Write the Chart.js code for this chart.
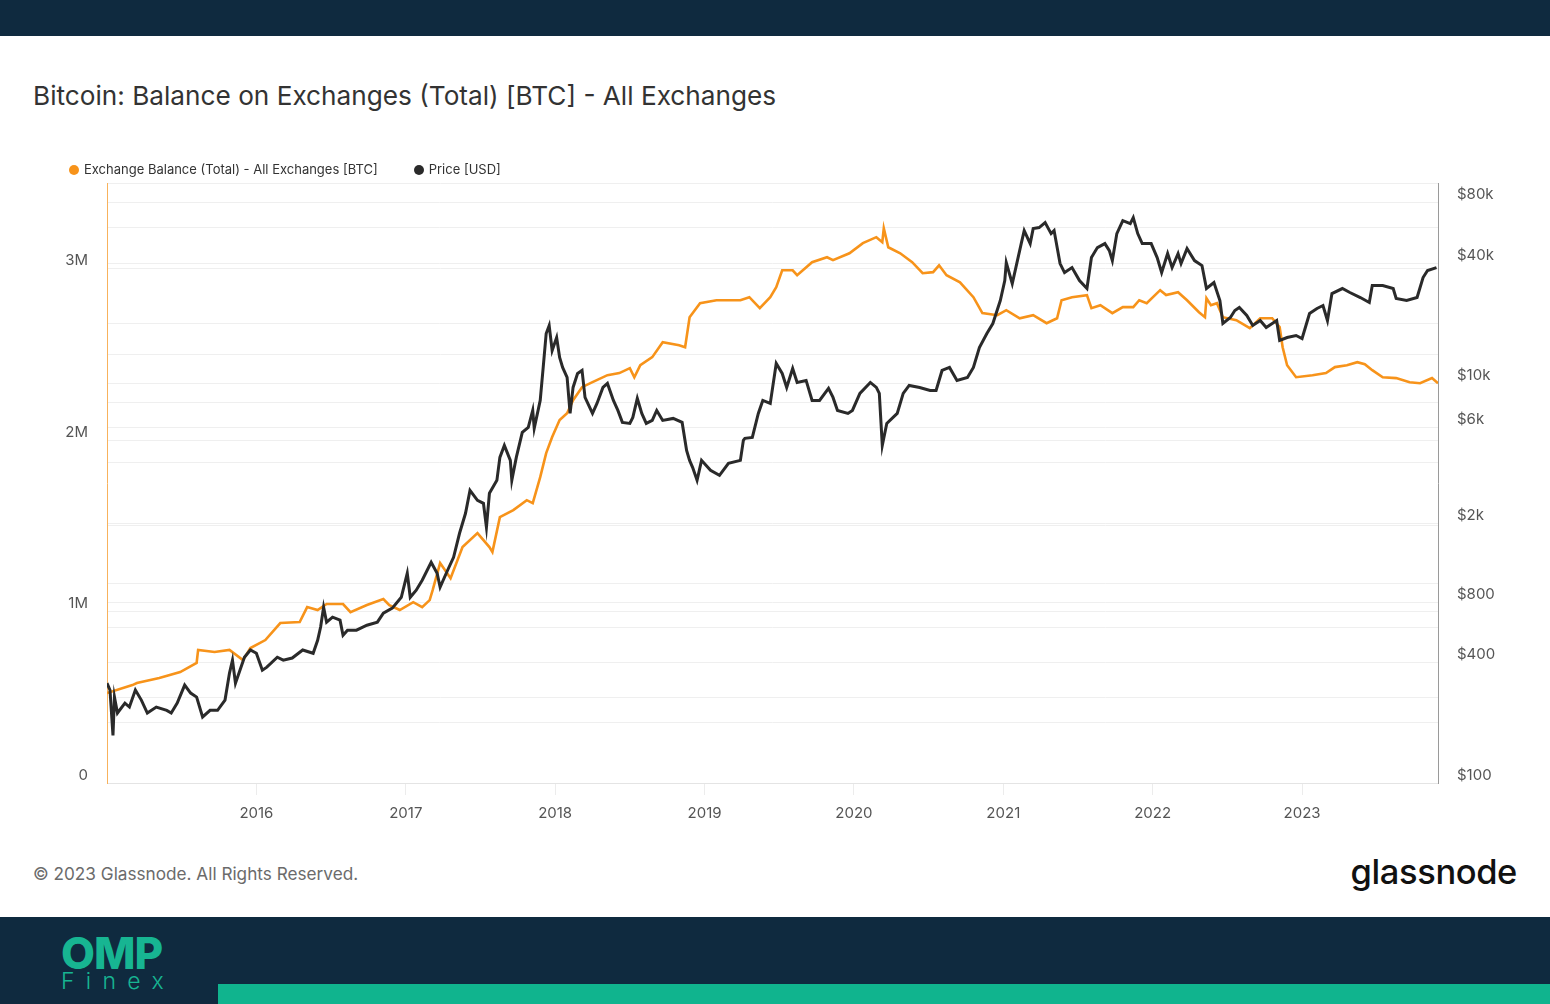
<!DOCTYPE html>
<html>
<head>
<meta charset="utf-8">
<script src="https://cdn.jsdelivr.net/npm/chart.js@4.4.1/dist/chart.umd.min.js"></script>
<style>
  html, body { margin: 0; padding: 0; }
  body { width: 1550px; height: 1004px; position: relative; background: #fff; overflow: hidden; font-family: Inter, "Noto Sans", sans-serif; }
  .abs { position: absolute; white-space: nowrap; }
  #topbar { left: 0; top: 0; width: 1550px; height: 36px; background: #0f2a3f; }
  #title { left: 33px; top: 80px; font-size: 26.2px; line-height: 32px; color: #333; }
  #legend { left: 69px; top: 161px; font-size: 13px; line-height: 16px; color: #333; }
  #legend span.dot { display: inline-block; width: 10px; height: 10px; border-radius: 50%; margin-right: 5px; vertical-align: -1px; }
  #chart { position: absolute; left: 0; top: 140px; }
  #footer { left: 33px; top: 863px; font-size: 17.2px; line-height: 22px; color: #6b6b6b; }
  #brand { right: 33px; top: 852px; font-size: 34.5px; line-height: 40px; color: #111; font-weight: 500; letter-spacing: -0.4px; }
  #bottombar { left: 0; top: 917px; width: 1550px; height: 87px; background: #0f2a3f; }
  #teal { left: 218px; top: 984px; width: 1332px; height: 20px; background: #10b48e; }
  #omp { left: 61px; top: 931px; font-size: 44px; line-height: 44px; font-weight: 800; color: #17b592; letter-spacing: -1px; }
  #finex { left: 61px; top: 969px; font-size: 23px; line-height: 24px; font-weight: 300; color: #17b592; letter-spacing: 11.3px; }
</style>
</head>
<body>
<div id="topbar" class="abs"></div>
<div id="title" class="abs">Bitcoin: Balance on Exchanges (Total) [BTC] - All Exchanges</div>
<canvas id="chart" width="1550" height="700"></canvas>
<div id="legend" class="abs"><span class="dot" style="background:#f7931a"></span>Exchange Balance (Total) - All Exchanges [BTC]<span class="dot" style="background:#2a2a2a;margin-left:36px"></span>Price [USD]</div>
<div id="footer" class="abs">© 2023 Glassnode. All Rights Reserved.</div>
<div id="brand" class="abs">glassnode</div>
<div id="bottombar" class="abs"></div>
<div id="teal" class="abs"></div>
<div id="omp" class="abs">OMP</div>
<div id="finex" class="abs">Finex</div>

<script>
// dates as decimal years
const balanceDates = [
  2015.00, 2015.17, 2015.20, 2015.35, 2015.49, 2015.60, 2015.61, 2015.72, 2015.82, 2015.91,
  2015.96, 2016.06, 2016.16, 2016.29, 2016.34, 2016.41, 2016.47, 2016.58, 2016.63, 2016.74,
  2016.85, 2016.89, 2016.96, 2017.05, 2017.11, 2017.16, 2017.18, 2017.23, 2017.30, 2017.38,
  2017.48, 2017.56, 2017.58, 2017.63, 2017.72, 2017.81, 2017.85, 2017.90, 2017.94, 2017.98,
  2018.03, 2018.08, 2018.12, 2018.18, 2018.25, 2018.35, 2018.43, 2018.50, 2018.53, 2018.57,
  2018.65, 2018.72, 2018.83, 2018.87, 2018.90, 2018.97, 2019.08, 2019.24, 2019.30, 2019.37,
  2019.44, 2019.48, 2019.52, 2019.59, 2019.62, 2019.72, 2019.82, 2019.86, 2019.97, 2020.06,
  2020.15, 2020.19, 2020.20, 2020.23, 2020.31, 2020.39, 2020.46, 2020.53, 2020.57, 2020.62,
  2020.71, 2020.80, 2020.86, 2020.96, 2021.02, 2021.11, 2021.20, 2021.29, 2021.36, 2021.39,
  2021.46, 2021.56, 2021.59, 2021.65, 2021.73, 2021.80, 2021.87, 2021.91, 2021.96, 2022.05,
  2022.09, 2022.17, 2022.23, 2022.31, 2022.35, 2022.36, 2022.39, 2022.43, 2022.47, 2022.56,
  2022.65, 2022.72, 2022.80, 2022.85, 2022.87, 2022.90, 2022.96, 2023.07, 2023.16, 2023.22,
  2023.30, 2023.37, 2023.42, 2023.47, 2023.54, 2023.63, 2023.72, 2023.79, 2023.87, 2023.91
];
const balanceValues = [
  525000, 571000, 583000, 612000, 647000, 700000, 776000, 764000, 776000, 717000,
  787000, 834000, 933000, 939000, 1026000, 1009000, 1044000, 1044000, 997000, 1038000,
  1073000, 1038000, 1009000, 1055000, 1026000, 1067000, 1125000, 1283000, 1195000, 1376000,
  1458000, 1376000, 1347000, 1551000, 1592000, 1650000, 1633000, 1784000, 1924000, 2018000,
  2117000, 2157000, 2233000, 2309000, 2338000, 2379000, 2391000, 2420000, 2367000, 2437000,
  2484000, 2571000, 2554000, 2542000, 2717000, 2799000, 2816000, 2816000, 2834000, 2770000,
  2834000, 2892000, 2991000, 2991000, 2962000, 3038000, 3067000, 3050000, 3090000, 3149000,
  3184000, 3155000, 3236000, 3125000, 3090000, 3038000, 2974000, 2980000, 3020000, 2962000,
  2921000, 2834000, 2741000, 2729000, 2758000, 2711000, 2729000, 2682000, 2711000, 2816000,
  2834000, 2846000, 2770000, 2787000, 2741000, 2776000, 2776000, 2816000, 2799000, 2875000,
  2846000, 2863000, 2816000, 2746000, 2717000, 2828000, 2787000, 2799000, 2717000, 2700000,
  2653000, 2711000, 2711000, 2659000, 2542000, 2437000, 2367000, 2379000, 2391000, 2426000,
  2437000, 2455000, 2443000, 2408000, 2367000, 2362000, 2338000, 2332000, 2362000, 2332000
];

const priceDates = [
  2015.00, 2015.02, 2015.04, 2015.05, 2015.07, 2015.12, 2015.15, 2015.19, 2015.23, 2015.27,
  2015.33, 2015.40, 2015.43, 2015.47, 2015.52, 2015.56, 2015.60, 2015.64, 2015.69, 2015.74,
  2015.79, 2015.82, 2015.84, 2015.86, 2015.89, 2015.92, 2015.96, 2016.00, 2016.04, 2016.07,
  2016.14, 2016.18, 2016.24, 2016.31, 2016.38, 2016.41, 2016.43, 2016.45, 2016.47, 2016.51,
  2016.56, 2016.58, 2016.61, 2016.67, 2016.74, 2016.81, 2016.85, 2016.91, 2016.97, 2017.01,
  2017.03, 2017.07, 2017.11, 2017.17, 2017.21, 2017.23, 2017.28, 2017.32, 2017.36, 2017.40,
  2017.43, 2017.48, 2017.52, 2017.54, 2017.56, 2017.61, 2017.63, 2017.66, 2017.70, 2017.71,
  2017.74, 2017.78, 2017.82, 2017.85, 2017.86, 2017.90, 2017.92, 2017.94, 2017.96, 2017.98,
  2018.01, 2018.03, 2018.05, 2018.08, 2018.10, 2018.12, 2018.15, 2018.18, 2018.20, 2018.25,
  2018.28, 2018.32, 2018.35, 2018.39, 2018.42, 2018.45, 2018.50, 2018.52, 2018.55, 2018.58,
  2018.61, 2018.65, 2018.68, 2018.72, 2018.79, 2018.85, 2018.88, 2018.90, 2018.92, 2018.95,
  2018.98, 2019.04, 2019.10, 2019.16, 2019.24, 2019.26, 2019.27, 2019.32, 2019.36, 2019.39,
  2019.44, 2019.48, 2019.52, 2019.55, 2019.59, 2019.62, 2019.68, 2019.72, 2019.77, 2019.83,
  2019.86, 2019.89, 2019.96, 2019.99, 2020.04, 2020.11, 2020.15, 2020.17, 2020.19, 2020.22,
  2020.29, 2020.33, 2020.37, 2020.44, 2020.51, 2020.55, 2020.59, 2020.64, 2020.69, 2020.76,
  2020.80, 2020.84, 2020.89, 2020.93, 2020.98, 2021.01, 2021.02, 2021.06, 2021.09, 2021.12,
  2021.14, 2021.18, 2021.20, 2021.24, 2021.28, 2021.32, 2021.34, 2021.38, 2021.41, 2021.46,
  2021.51, 2021.56, 2021.59, 2021.63, 2021.68, 2021.71, 2021.73, 2021.76, 2021.80, 2021.85,
  2021.87, 2021.90, 2021.93, 2021.99, 2022.03, 2022.06, 2022.10, 2022.13, 2022.17, 2022.19,
  2022.23, 2022.28, 2022.33, 2022.36, 2022.41, 2022.45, 2022.47, 2022.52, 2022.55, 2022.58,
  2022.63, 2022.67, 2022.72, 2022.76, 2022.83, 2022.85, 2022.90, 2022.96, 2023.00, 2023.05,
  2023.10, 2023.14, 2023.17, 2023.20, 2023.27, 2023.32, 2023.39, 2023.45, 2023.47, 2023.54,
  2023.61, 2023.63, 2023.70, 2023.77, 2023.81, 2023.84, 2023.90
];
const priceValues = [
  316, 292, 173, 269, 224, 251, 240, 292, 260, 224,
  240, 231, 224, 251, 309, 282, 269, 214, 231, 231,
  260, 355, 412, 316, 367, 426, 463, 446, 367, 380,
  426, 412, 422, 463, 446, 518, 603, 758, 638, 676,
  653, 549, 582, 582, 616, 638, 708, 750, 850, 1121,
  850, 922, 1035, 1272, 1121, 955, 1161, 1348, 1778, 2238,
  2916, 2599, 2511, 1905, 2817, 3272, 4263, 4896, 4119, 3272,
  4263, 5686, 6023, 7325, 5955, 8219, 12018, 17775, 19490, 14615,
  16975, 13484, 12018, 10710, 7077, 9546, 11215, 11610, 8507, 7077,
  7939, 9546, 9996, 8219, 7325, 6380, 6306, 6758, 8411, 7077,
  6306, 6529, 7325, 6529, 6680, 6380, 4622, 4119, 3800, 3272,
  4119, 3672, 3466, 3980, 4119, 5186, 5307, 5368, 7077, 8219,
  7939, 12584, 11215, 9546, 11880, 10112, 10347, 8219, 8219, 9437,
  8507, 7325, 7077, 7325, 8908, 10112, 9546, 8908, 4896, 6306,
  7077, 8908, 9769, 9546, 9222, 9222, 11610, 12018, 10347, 10710,
  12018, 15129, 17775, 19944, 25991, 32720, 40254, 31609, 39794, 50097,
  58184, 50097, 59540, 60230, 63798, 56209, 58184, 39794, 35876, 38003,
  32720, 29841, 42640, 47843, 50097, 46218, 41192, 56209, 65284, 63068,
  67579, 56209, 50097, 50097, 42640, 35876, 44649, 38003, 44649, 39794,
  47295, 41192, 38887, 29841, 31975, 25991, 19944, 21370, 23164, 23978,
  21868, 19490, 20644, 19046, 20644, 16398, 16975, 17370, 16781, 22377,
  23703, 24536, 20644, 28172, 29841, 28498, 26904, 25399, 30890, 30890,
  29841, 26596, 25991, 26904, 33870, 36713, 38003
];

const yearTicks = [2016, 2017, 2018, 2019, 2020, 2021, 2022, 2023];
const balanceTicks = [0, 500000, 1000000, 1500000, 2000000, 2500000, 3000000, 3500000];
const balanceLabels = { 0: '0', 1000000: '1M', 2000000: '2M', 3000000: '3M' };
const priceTicks = [100, 200, 400, 600, 800, 1000, 2000, 4000, 6000, 8000, 10000, 20000, 40000, 60000, 80000];
const priceLabels = { 100: '$100', 400: '$400', 800: '$800', 2000: '$2k', 6000: '$6k', 10000: '$10k', 40000: '$40k', 80000: '$80k' };

const tickFont = { family: 'Inter', size: 15 };
const gridColor = '#efefef';

const ctx = document.getElementById('chart').getContext('2d');
const chart = new Chart(ctx, {
  type: 'line',
  data: {
    datasets: [
      {
        label: 'Exchange Balance (Total) - All Exchanges [BTC]',
        data: balanceDates.map((d, i) => ({ x: d, y: balanceValues[i] })),
        yAxisID: 'yBal',
        borderColor: '#f7931a',
        borderWidth: 2.6,
        pointRadius: 0,
        order: 2
      },
      {
        label: 'Price [USD]',
        data: priceDates.map((d, i) => ({ x: d, y: priceValues[i] })),
        yAxisID: 'yPrice',
        borderColor: '#2a2a2a',
        borderWidth: 3,
        pointRadius: 0,
        order: 1
      }
    ]
  },
  options: {
    responsive: false,
    animation: false,
    devicePixelRatio: 1,
    layout: { padding: { top: 43, left: 0, right: 0, bottom: 0 } },
    plugins: { legend: { display: false }, tooltip: { enabled: false } },
    scales: {
      x: {
        type: 'linear',
        min: 2015.0,
        max: 2023.91,
        afterBuildTicks: s => { s.ticks = yearTicks.map(v => ({ value: v })); },
        afterFit: s => { s.height = 57; },
        grid: { drawOnChartArea: false, drawTicks: true, tickLength: 12, tickColor: '#ececec' },
        border: { color: '#e4e4e4' },
        ticks: { font: tickFont, color: '#555', padding: 9, maxRotation: 0, callback: v => String(v) }
      },
      yBal: {
        position: 'left',
        min: 0,
        max: 3500000,
        afterBuildTicks: s => { s.ticks = balanceTicks.map(v => ({ value: v })); },
        afterFit: s => { s.width = 107; },
        grid: { color: gridColor, drawTicks: false },
        border: { color: '#f8b25c' },
        ticks: { font: tickFont, color: '#555', padding: 19, labelOffset: -8, callback: v => balanceLabels[v] || '' }
      },
      yPrice: {
        type: 'logarithmic',
        position: 'right',
        min: 100,
        max: 100700,
        afterBuildTicks: s => { s.ticks = priceTicks.map(v => ({ value: v })); },
        afterFit: s => { s.width = 112; },
        grid: { color: gridColor, drawTicks: false },
        border: { color: '#9a9a9a' },
        ticks: { font: tickFont, color: '#555', padding: 19, labelOffset: -8, callback: v => priceLabels[v] || '' }
      }
    }
  }
});
</script>
</body>
</html>
